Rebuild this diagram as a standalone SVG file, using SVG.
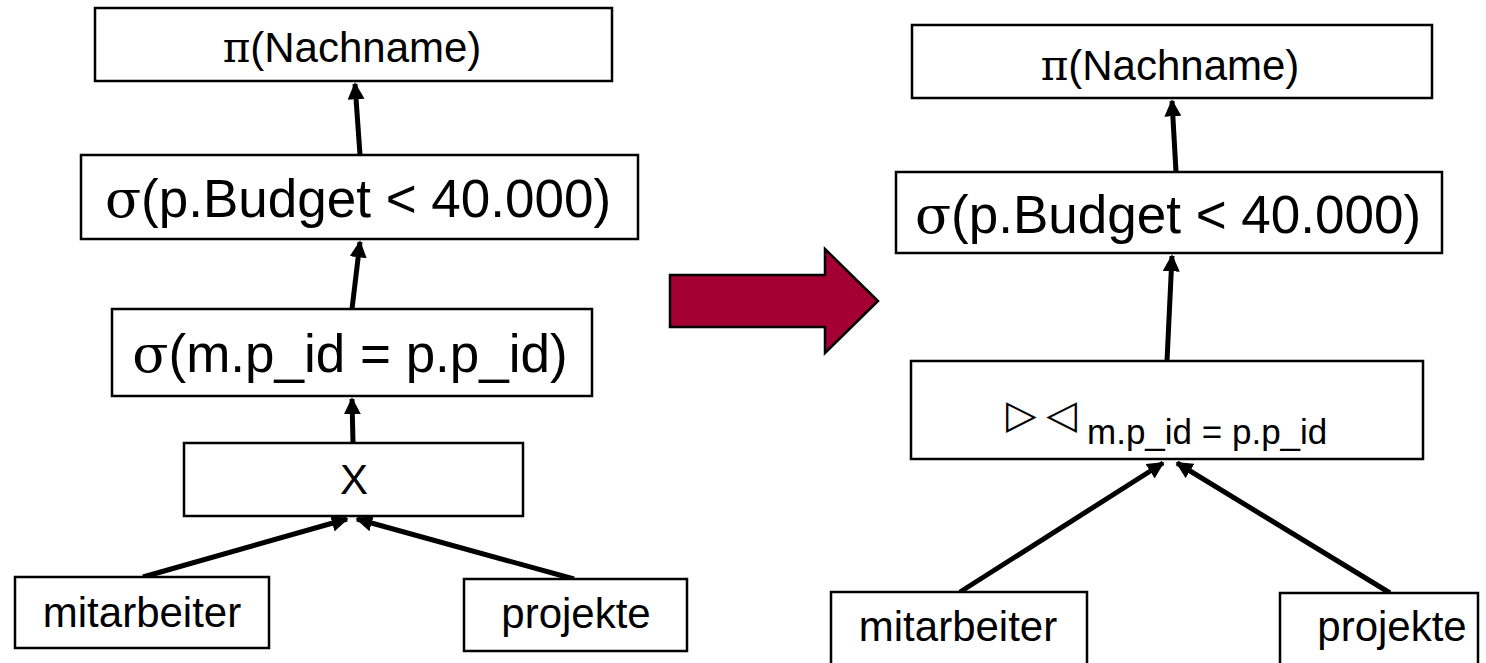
<svg xmlns="http://www.w3.org/2000/svg" width="1486" height="663" viewBox="0 0 1486 663">
<defs>
<style>
.box{fill:#fff;stroke:#000;stroke-width:2.5}
.t{font-family:"Liberation Sans",Arial,sans-serif;fill:#000;text-anchor:middle}
.sym{font-family:"DejaVu Serif","Liberation Serif",serif}
.c{stroke:#000;stroke-width:5;fill:none;marker-end:url(#ah)}
</style>
<marker id="ah" viewBox="0 0 10 10" refX="9" refY="5" markerWidth="3.4" markerHeight="3.4" orient="auto" markerUnits="strokeWidth">
<path d="M0,0 L10,5 L0,10 z" fill="#000"/>
</marker>
</defs>
<rect width="1486" height="663" fill="#fff"/>

<g id="connectors">
<line class="c" x1="360" y1="155" x2="355" y2="84"/>
<line class="c" x1="352" y1="309" x2="360" y2="242"/>
<line class="c" x1="353" y1="443" x2="352" y2="399"/>
<line class="c" x1="143" y1="577" x2="347" y2="519"/>
<line class="c" x1="574" y1="579" x2="357" y2="519"/>
<line class="c" x1="1176" y1="172" x2="1172" y2="101"/>
<line class="c" x1="1167" y1="361" x2="1172" y2="256"/>
<line class="c" x1="960" y1="592" x2="1163" y2="463"/>
<line class="c" x1="1390" y1="593" x2="1177" y2="463"/>
</g>

<g id="left-pi">
<rect class="box" x="95" y="8" width="517" height="73"/>
<text class="t" x="352" y="62" font-size="42"><tspan class="sym">π</tspan>(Nachname)</text>
</g>
<g id="left-budget">
<rect class="box" x="81" y="155" width="557" height="84"/>
<text class="t" x="358" y="217" font-size="53"><tspan class="sym">σ</tspan>(p.Budget &lt; 40.000)</text>
</g>
<g id="left-sel">
<rect class="box" x="112" y="309" width="480" height="87"/>
<text class="t" x="350" y="372" font-size="53"><tspan class="sym">σ</tspan>(m.p_id = p.p_id)</text>
</g>
<g id="left-cross">
<rect class="box" x="184" y="443" width="339" height="73"/>
<text class="t" x="354" y="494" font-size="42">X</text>
</g>
<g id="left-mitarbeiter">
<rect class="box" x="15" y="577" width="254" height="71"/>
<text class="t" x="142" y="627" font-size="42">mitarbeiter</text>
</g>
<g id="left-projekte">
<rect class="box" x="464" y="579" width="223" height="72"/>
<text class="t" x="576" y="628" font-size="42">projekte</text>
</g>

<g id="transform-arrow">
<polygon points="670,275 825,275 825,249 878,301 825,353 825,327 670,327" fill="#A50034" stroke="#000" stroke-width="2.5"/>
</g>

<g id="right-pi">
<rect class="box" x="912" y="25" width="520" height="73"/>
<text class="t" x="1170" y="80" font-size="42"><tspan class="sym">π</tspan>(Nachname)</text>
</g>
<g id="right-budget">
<rect class="box" x="896" y="172" width="546" height="81"/>
<text class="t" x="1168" y="233" font-size="53"><tspan class="sym">σ</tspan>(p.Budget &lt; 40.000)</text>
</g>
<g id="right-join">
<rect class="box" x="911" y="361" width="512" height="98"/>
<text x="1006" y="428" font-size="40" font-family="DejaVu Sans, sans-serif">▷</text>
<text x="1046" y="428" font-size="40" font-family="DejaVu Sans, sans-serif">◁</text>
<text x="1087" y="444" font-size="35" font-family="Liberation Sans, Arial, sans-serif">m.p_id = p.p_id</text>
</g>
<g id="right-mitarbeiter">
<rect class="box" x="831" y="592" width="256" height="80"/>
<text class="t" x="958" y="641" font-size="42">mitarbeiter</text>
</g>
<g id="right-projekte">
<rect class="box" x="1280" y="593" width="198" height="80"/>
<text class="t" x="1392" y="641" font-size="42">projekte</text>
</g>
</svg>
